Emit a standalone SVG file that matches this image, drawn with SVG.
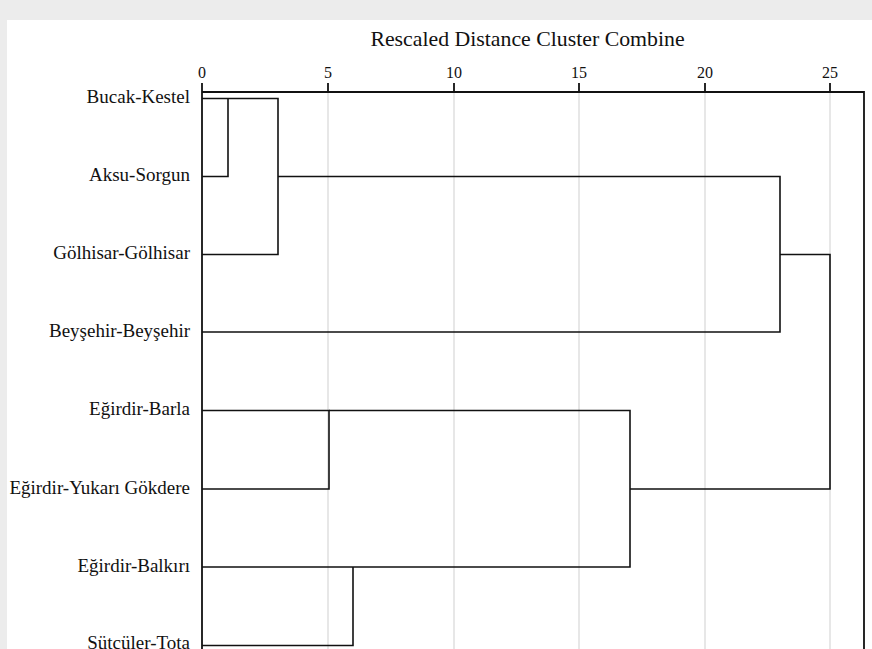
<svg xmlns="http://www.w3.org/2000/svg" width="872" height="649" viewBox="0 0 872 649">
<style>
.lbl{font-family:"Liberation Serif","Times New Roman",serif;font-size:19px;fill:#111;text-anchor:end}
.tk{font-family:"Liberation Serif","Times New Roman",serif;font-size:16px;fill:#111;text-anchor:middle}
.ttl{font-family:"Liberation Serif","Times New Roman",serif;font-size:21.8px;fill:#111;text-anchor:middle}
.grid{stroke:#cfcfcf;stroke-width:1;fill:none}
.ln{stroke:#111;stroke-width:1.6;fill:none}
.ax{stroke:#111;stroke-width:1.8;fill:none}
</style>
<rect x="0" y="0" width="872" height="649" fill="#ececec"/>
<rect x="7" y="20" width="865" height="629" fill="#ffffff"/>
<g id="axis">
<text class="ttl" x="527.5" y="46">Rescaled Distance Cluster Combine</text>
<g class="grid">
<line x1="328" y1="92" x2="328" y2="649"/>
<line x1="454" y1="92" x2="454" y2="649"/>
<line x1="579" y1="92" x2="579" y2="649"/>
<line x1="705" y1="92" x2="705" y2="649"/>
<line x1="830" y1="92" x2="830" y2="649"/>
</g>
<g class="ax">
<line x1="202" y1="83" x2="202" y2="649"/>
<line x1="328" y1="83" x2="328" y2="92"/>
<line x1="454" y1="83" x2="454" y2="92"/>
<line x1="579" y1="83" x2="579" y2="92"/>
<line x1="705" y1="83" x2="705" y2="92"/>
<line x1="830" y1="83" x2="830" y2="92"/>
<polyline points="202,92 864,92 864,649"/>
</g>
<text class="tk" x="202" y="78">0</text>
<text class="tk" x="328" y="78">5</text>
<text class="tk" x="454" y="78">10</text>
<text class="tk" x="579" y="78">15</text>
<text class="tk" x="705" y="78">20</text>
<text class="tk" x="830" y="78">25</text>
</g>
<g id="n-bucak"><text class="lbl" x="190" y="103">Bucak-Kestel</text></g>
<g id="n-aksu"><text class="lbl" x="190" y="181">Aksu-Sorgun</text></g>
<g id="n-golhisar"><text class="lbl" x="190" y="259">Gölhisar-Gölhisar</text></g>
<g id="n-beysehir"><text class="lbl" x="190" y="337">Beyşehir-Beyşehir</text></g>
<g id="n-barla"><text class="lbl" x="190" y="415">Eğirdir-Barla</text></g>
<g id="n-yukari"><text class="lbl" x="190" y="493.5">Eğirdir-Yukarı Gökdere</text></g>
<g id="n-balkiri"><text class="lbl" x="190" y="571.5">Eğirdir-Balkırı</text></g>
<g id="n-sutculer"><text class="lbl" x="190" y="649">Sütçüler-Tota</text></g>
<g id="connectors" class="ln">
<polyline points="202,98.5 278,98.5 278,254.5 202,254.5"/>
<polyline points="228,98.5 228,176.5 202,176.5"/>
<polyline points="278,176.5 780,176.5 780,332 202,332"/>
<polyline points="780,254.5 830,254.5 830,489 630,489"/>
<polyline points="202,410.5 329,410.5 329,489 202,489"/>
<polyline points="329,410.5 630,410.5 630,567 202,567"/>
<polyline points="202,645.5 353,645.5 353,567"/>
</g>
</svg>
